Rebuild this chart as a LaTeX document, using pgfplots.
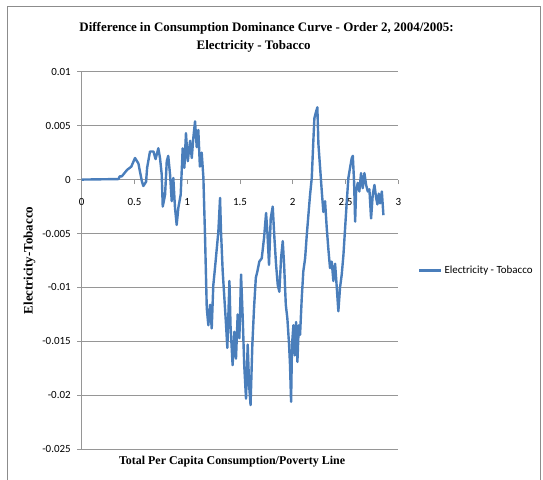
\documentclass[border=0pt]{standalone}
\usepackage{pgfplots}
\pgfplotsset{compat=1.18}
\usepackage{fontspec}
\setmainfont{Liberation Serif}
\newfontfamily\calibri{Carlito}
\definecolor{excelblue}{RGB}{74,126,187}
\definecolor{gridgray}{RGB}{150,150,150}
\definecolor{framegray}{RGB}{140,140,140}

\begin{document}
\begin{tikzpicture}
\path[use as bounding box] (0bp,0bp) rectangle (543bp,480bp);
\draw[framegray, line width=0.8bp] (7bp,-2bp) -- (7bp,474bp) -- (540.5bp,474bp) -- (540.5bp,-2bp);
\begin{axis}[
  at={(81.7bp,30.7bp)}, anchor=south west,
  scale only axis,
  width=316.6bp, height=377.6bp,
  xmin=0, xmax=3,
  ymin=-0.025, ymax=0.01,
  axis x line=middle, axis y line=left,
  axis line style={-, gridgray, line width=0.8bp},
  hide obscured x ticks=false, hide obscured y ticks=false,
  xtick={0,0.5,1,1.5,2,2.5,3},
  xticklabels={0,0.5,1,1.5,2,2.5,3},
  ytick={-0.025,-0.02,-0.015,-0.01,-0.005,0,0.005,0.01},
  yticklabels={-0.025,-0.02,-0.015,-0.01,-0.005,0,0.005,0.01},
  scaled y ticks=false,
  ymajorgrids,
  major grid style={gridgray, line width=0.8bp},
  tick style={gridgray, line width=0.8bp},
  major tick length=4.5bp,
  tick align=outside,
  tick label style={font=\calibri\fontsize{11}{13}\selectfont, black},
  xticklabel style={anchor=north, yshift=-11bp},
  yticklabel style={anchor=east, xshift=-3bp},
  xlabel={Total Per Capita Consumption/Poverty Line},
  ylabel={Electricity-Tobacco},
  xlabel style={at={(axis description cs:0.475,0)}, anchor=center, yshift=-12bp, font=\bfseries\fontsize{12}{14}\selectfont},
  ylabel style={at={(axis description cs:-0.165,0.5)}, anchor=center, font=\bfseries\fontsize{13}{15}\selectfont},
  title={Difference in Consumption Dominance Curve - Order 2, 2004/2005:\\\hspace*{-26bp}Electricity - Tobacco},
  title style={at={(axis description cs:0.584,1)}, anchor=center, yshift=28bp, align=center, font=\bfseries\fontsize{13}{18}\selectfont},
  legend style={at={(1.062,0.473)}, anchor=west, draw=none, fill=none, inner sep=0pt, font=\calibri\fontsize{11}{13}\selectfont},
  legend cell align=left,
  legend image code/.code={\draw[#1, line width=2.4bp] (0bp,0bp) -- (22bp,0bp);},
]
\addplot[excelblue, line width=2.4bp, line join=round]
coordinates {(0,0) (0.35,0.00005) (0.36,0.0003) (0.38,0.0003) (0.43,0.0009) (0.47,0.0012) (0.505,0.0020) (0.537,0.0015) (0.57,-0.00015) (0.584,-0.0006) (0.61,-0.0002) (0.62,0.0011) (0.647,0.0026) (0.68,0.0026) (0.70,0.0019) (0.726,0.0029) (0.742,0.0020) (0.758,0.0005) (0.768,-0.0025) (0.79,-0.0014) (0.806,0.0017) (0.82,0.0022) (0.837,0.0005) (0.853,-0.0020) (0.868,0.00015) (0.884,-0.0026) (0.90,-0.0042) (0.916,-0.0026) (0.938,-0.0014) (0.957,0.0029) (0.973,0.0011) (0.988,0.0043) (1.005,0.0017) (1.027,0.0036) (1.043,0.0020) (1.058,0.0039) (1.074,0.0054) (1.09,0.0030) (1.105,0.0046) (1.12,0.0012) (1.137,0.0025) (1.153,0.0002) (1.169,-0.0054) (1.185,-0.0119) (1.20,-0.0135) (1.216,-0.0116) (1.232,-0.0138) (1.247,-0.0098) (1.263,-0.0082) (1.28,-0.0064) (1.295,-0.0048) (1.311,-0.0017) (1.32,-0.0048) (1.336,-0.0085) (1.352,-0.0110) (1.368,-0.0135) (1.38,-0.0156) (1.40,-0.0094) (1.41,-0.0135) (1.43,-0.0172) (1.447,-0.0141) (1.462,-0.0166) (1.478,-0.0125) (1.494,-0.0147) (1.51,-0.0088) (1.526,-0.0129) (1.54,-0.0172) (1.557,-0.0203) (1.573,-0.0153) (1.586,-0.0190) (1.60,-0.0209) (1.617,-0.0153) (1.633,-0.0119) (1.65,-0.0091) (1.665,-0.0085) (1.683,-0.0076) (1.706,-0.0073) (1.728,-0.0054) (1.747,-0.0031) (1.759,-0.0048) (1.775,-0.0079) (1.791,-0.0036) (1.81,-0.0025) (1.826,-0.0054) (1.842,-0.0079) (1.858,-0.0098) (1.873,-0.0104) (1.889,-0.0073) (1.905,-0.0057) (1.918,-0.0079) (1.934,-0.0116) (1.949,-0.0129) (1.965,-0.0153) (1.974,-0.0172) (1.984,-0.0206) (1.993,-0.0153) (2.006,-0.0135) (2.019,-0.0163) (2.031,-0.0132) (2.044,-0.0169) (2.057,-0.0135) (2.069,-0.0144) (2.085,-0.0110) (2.10,-0.0085) (2.117,-0.0073) (2.133,-0.0051) (2.148,-0.0033) (2.164,-0.0014) (2.18,0.00015) (2.195,0.0036) (2.205,0.0057) (2.221,0.0063) (2.233,0.0067) (2.243,0.0033) (2.259,0.0011) (2.275,-0.0011) (2.29,-0.0030) (2.306,-0.0020) (2.322,-0.0045) (2.337,-0.0064) (2.353,-0.0082) (2.369,-0.0076) (2.385,-0.0094) (2.401,-0.0078) (2.417,-0.0100) (2.432,-0.0122) (2.448,-0.0100) (2.464,-0.0088) (2.48,-0.0070) (2.496,-0.0045) (2.512,-0.0020) (2.527,0.00015) (2.543,0.0011) (2.559,0.0020) (2.569,0.0022) (2.581,-0.0002) (2.591,-0.0039) (2.60,-0.0011) (2.616,-0.0003) (2.631,-0.0011) (2.647,0.0006) (2.663,-0.0008) (2.679,0.0006) (2.695,-0.0005) (2.711,-0.0011) (2.726,-0.0009) (2.742,-0.0036) (2.758,-0.0014) (2.774,-0.0005) (2.79,-0.0017) (2.802,-0.0023) (2.815,-0.0013) (2.827,-0.0022) (2.844,-0.0011) (2.859,-0.0033)};
\addlegendentry{Electricity - Tobacco}
\end{axis}
\end{tikzpicture}
\end{document}
